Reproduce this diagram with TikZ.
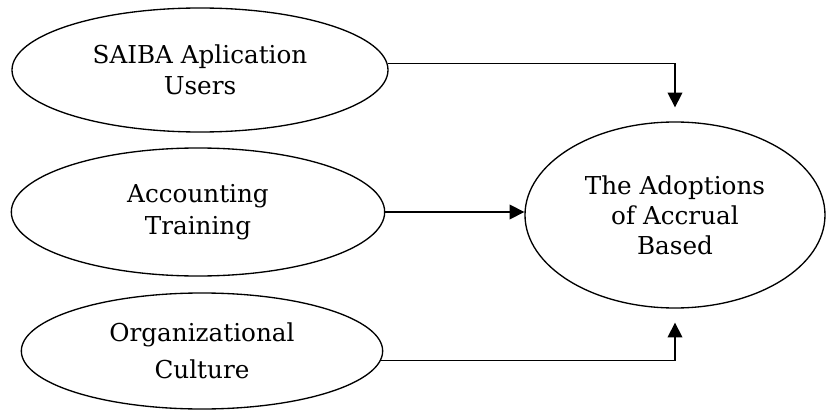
\documentclass[tikz,border=0pt]{standalone}
\usepackage{fontspec}
\setmainfont{DejaVu Serif}
\usetikzlibrary{shapes, arrows.meta, positioning}

\begin{document}
\begin{tikzpicture}[x=0.75pt,y=-0.75pt,
	every node/.style={font=\fontsize{18.5}{23.5}\selectfont, align=center},
	var/.style={draw, ellipse, line width=1pt, inner sep=0pt},
	link/.style={line width=1.1pt, -{Triangle[length=11pt,width=11pt]}}]
	\useasboundingbox (0,0) rectangle (826,414);
	\node[var, minimum width=282pt, minimum height=93pt] (saiba) at (200,70) {SAIBA Aplication\\Users};
	\node[var, minimum width=280pt, minimum height=96pt] (training) at (198,212) {Accounting\\Training};
	\node[var, minimum width=271pt, minimum height=87pt, font=\fontsize{18.5}{27.5}\selectfont] (culture) at (202,351) {Organizational\\Culture};
	\node[var, minimum width=225pt, minimum height=139.5pt, font=\fontsize{18.5}{22.5}\selectfont] (accrual) at (675,215) {The Adoptions\\of Accrual\\Based};
	% paths into the outcome
	\draw[link, shorten >=10.5pt] (saiba.2) -| (accrual.north);
	\draw[link] (training.east) -- (training.east -| accrual.west);
	\draw[link, shorten >=10.5pt] (culture.-3) -| (accrual.south);
\end{tikzpicture}
\end{document}
